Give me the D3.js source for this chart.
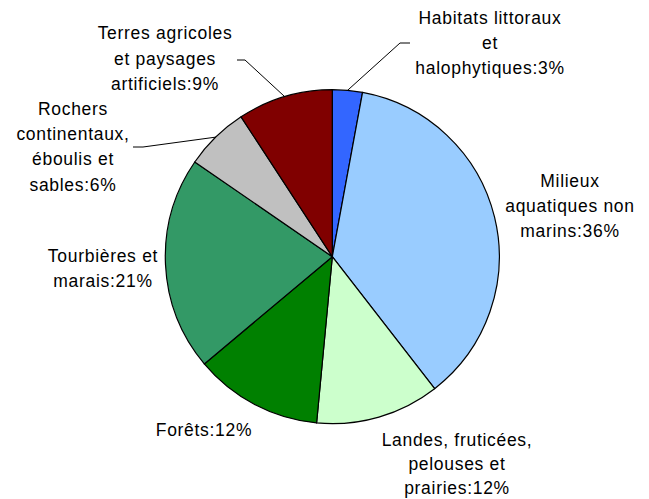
<!DOCTYPE html>
<html>
<head>
<meta charset="utf-8">
<script src="https://cdn.jsdelivr.net/npm/d3@7"></script>
<style>
  html, body { margin: 0; padding: 0; background: #fff; }
  svg { display: block; }
  text { font-family: "Liberation Sans", Arial, sans-serif; font-size: 17.5px; fill: #000; letter-spacing: 0.7px; }
</style>
</head>
<body>
<svg id="chart" width="649" height="499"></svg>
<script>
// Data
const categories = [
  "Habitats littoraux et halophytiques",
  "Milieux aquatiques non marins",
  "Landes, fruticées, pelouses et prairies",
  "Forêts",
  "Tourbières et marais",
  "Rochers continentaux, éboulis et sables",
  "Terres agricoles et paysages artificiels"
];
const values = [2.9, 36.6, 12.0, 12.4, 20.7, 6.2, 9.2];
const percentLabels = ["3%", "36%", "12%", "12%", "21%", "6%", "9%"];
const labelLines = [
  ["Habitats littoraux", "et", "halophytiques:3%"],
  ["Milieux", "aquatiques non", "marins:36%"],
  ["Landes, fruticées,", "pelouses et", "prairies:12%"],
  ["Forêts:12%"],
  ["Tourbières et", "marais:21%"],
  ["Rochers", "continentaux,", "éboulis et", "sables:6%"],
  ["Terres agricoles", "et paysages", "artificiels:9%"]
];
const colors = ["#3366FF", "#99CCFF", "#CCFFCC", "#008000", "#339966", "#C0C0C0", "#800000"];

// Layout (label anchor: center x, first baseline y, line step; leader elbow points)
const labelPos = [
  [490, 24, 25], [570, 187, 25], [457, 446, 24], [204, 436, 25], [103, 262, 24.5], [73, 115, 25.2], [165, 39, 25.7]
];
const leaderElbows = [
  [[400, 43], [410, 43]],
  null, null, null, null,
  [[143, 147], [133, 147]],
  [[245, 60], [237, 60]]
];

const cx = 332.3, cy = 256.7, R = 167;
const svg = d3.select("#chart");
const g = svg.append("g").attr("transform", `translate(${cx},${cy})`);

const pie = d3.pie().sort(null).value(d => d)(values);
const arc = d3.arc().innerRadius(0).outerRadius(R);

g.selectAll("path.slice")
  .data(pie)
  .join("path")
  .attr("class", "slice")
  .attr("d", arc)
  .attr("fill", (d, i) => colors[i])
  .attr("stroke", "#000")
  .attr("stroke-width", 1.2)
  .attr("stroke-linejoin", "round");

// leader lines
pie.forEach((d, i) => {
  const el = leaderElbows[i];
  if (!el) return;
  const a = (d.startAngle + d.endAngle) / 2;
  const sx = cx + R * Math.sin(a), sy = cy - R * Math.cos(a);
  const pts = [[sx, sy]].concat(el);
  svg.append("path")
    .attr("d", d3.line()(pts))
    .attr("fill", "none")
    .attr("stroke", "#000")
    .attr("stroke-width", 1);
});

// labels
labelLines.forEach((lines, i) => {
  const [x, y, step] = labelPos[i];
  const t = svg.append("text")
    .attr("text-anchor", "middle")
    .attr("x", x)
    .attr("y", y);
  lines.forEach((ln, j) => {
    t.append("tspan")
      .attr("x", x)
      .attr("y", y + j * step)
      .text(ln);
  });
});
</script>
</body>
</html>
